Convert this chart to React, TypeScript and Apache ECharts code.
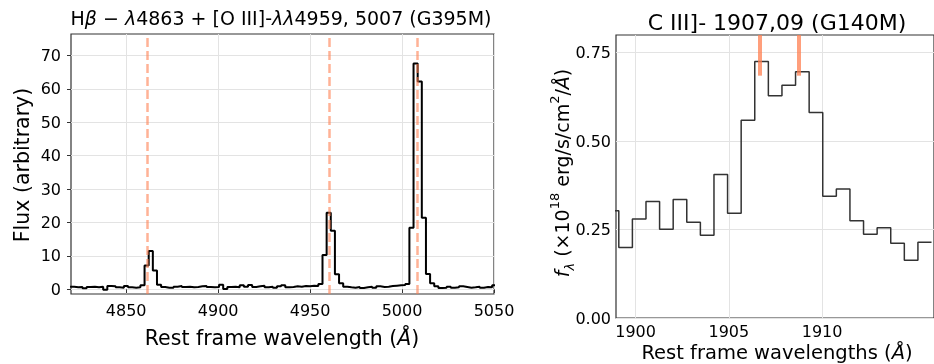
import React, { useEffect, useRef } from "react";
import * as echarts from "echarts";

// ---------- Left panel: Hβ + [O III] (G395M) ----------
const leftBinStart = 4819.5; // Å, first bin edge
const leftBinWidth = 2.25; // Å
const leftFlux = [
  0.8, 0.6, 0.7, 0.3, 0.7, 0.8, 0.6, 0.8, -0.1, 1.0, 0.9, 0.6, 0.5, 1.0, 0.6, 0.5, 0.6, 1.2,
  7.1, 11.5, 5.6, 1.4,
  0.7, 0.5, 0.5, 0.8, 1.0, 0.7, 0.8, 0.6, 0.7, 0.9, 1.0, 0.7, 0.6, 0.7, 1.4, 0.1, 0.7, 0.8,
  0.6, 1.2, 0.8, 1.3, 0.7, 0.9, 1.1, 0.6, 0.8, 0.5, 0.9, 1.2, 0.6, 0.7, 0.9, 0.8, 1.0, 0.9,
  1.1, 1.0, 1.6,
  10.3, 22.9, 17.5, 4.5, 1.8,
  0.8, 0.6, 0.5, 0.7, 0.4, 0.6, 0.8, 0.5, 0.9, 0.7, 0.8, 1.0, 1.1, 1.2, 1.3, 1.6,
  18.4, 67.6, 62.2, 21.4, 4.6, 1.8,
  0.9, 0.4, 0.5, 0.8, 0.5, 0.6, 0.9, 0.7, 0.5, 0.6, 0.8, 0.5, 0.7, 0.6, 1.2,
];
const leftLines = [4861.3, 4960.3, 5008.3];
const leftXTicks = [4850, 4900, 4950, 5000, 5050];
const leftYTicks = [0, 10, 20, 30, 40, 50, 60, 70];

// ---------- Right panel: C III] (G140M) ----------
const rightBinStart = 1898.371;
const rightBinWidth = 0.729;
const rightFlux = [
  0.303, 0.199, 0.28, 0.329, 0.251, 0.335, 0.271, 0.234, 0.406, 0.296, 0.559, 0.725,
  0.628, 0.658, 0.696, 0.581, 0.344, 0.365, 0.275, 0.237, 0.255, 0.211, 0.163, 0.214,
];
const rightLines = [1906.68, 1908.73];
const rightMarkFrom = 0.685;
const rightXTicks = [1900, 1905, 1910];
const rightYTicks = [0, 0.25, 0.5, 0.75];

const FONT = "DejaVu Sans";

function stepData(start: number, width: number, vals: number[]) {
  const d = vals.map((v, i) => [start + i * width, v]);
  d.push([start + vals.length * width, vals[vals.length - 1]]);
  return d;
}

function richLabel(size: number) {
  return {
    i: { fontSize: size, fontFamily: FONT, fontStyle: "italic", fill: "#000" },
    n: { fontSize: size, fontFamily: FONT, fill: "#000" },
  };
}

export default function App() {
  const ref = useRef<HTMLDivElement>(null);
  useEffect(() => {
    if (!ref.current) return;
    const chart = echarts.init(ref.current, undefined, { renderer: "svg" });
    const gridLine = { show: true, lineStyle: { color: "#e3e3e3", width: 1 } };
    const frame = "#333";
    const center = { align: "center", verticalAlign: "middle", textAlign: "center", textVerticalAlign: "middle" };
    const option: any = {
      animation: false,
      grid: [
        { left: 71, top: 34, width: 423, height: 260, show: true, borderColor: frame, borderWidth: 1.2, backgroundColor: "transparent" },
        { left: 616, top: 35, width: 323, height: 283, show: true, borderColor: frame, borderWidth: 1.2, backgroundColor: "transparent" },
      ],
      xAxis: [
        {
          type: "value", gridIndex: 0, min: 4820, max: 5050,
          axisLine: { show: false },
          axisTick: { show: true, length: 4, customValues: leftXTicks, lineStyle: { color: frame, width: 1 } },
          axisLabel: {
            customValues: leftXTicks, fontSize: 16, color: "#000", fontFamily: FONT, margin: 8,
            formatter: (v: number) => String(v),
          },
          splitLine: gridLine,
        },
        {
          type: "value", gridIndex: 1, min: 1898.95, max: 1916,
          axisLine: { show: false },
          axisTick: { show: false, customValues: rightXTicks },
          axisLabel: {
            customValues: rightXTicks, fontSize: 16, color: "#000", fontFamily: FONT, margin: 5,
            formatter: (v: number) => String(v),
          },
          splitLine: gridLine,
        },
      ],
      yAxis: [
        {
          type: "value", gridIndex: 0, min: -1.4, max: 76.4,
          axisLine: { show: false },
          axisTick: { show: true, length: 4, customValues: leftYTicks, lineStyle: { color: frame, width: 1 } },
          axisLabel: {
            customValues: leftYTicks, fontSize: 16, color: "#000", fontFamily: FONT, margin: 10,
            formatter: (v: number) => String(v),
          },
          splitLine: gridLine,
        },
        {
          type: "value", gridIndex: 1, min: 0, max: 0.8,
          axisLine: { show: false },
          axisTick: { show: false, customValues: rightYTicks },
          axisLabel: {
            customValues: rightYTicks, fontSize: 16, color: "#000", fontFamily: FONT, margin: 5,
            formatter: (v: number) => v.toFixed(2),
          },
          splitLine: gridLine,
        },
      ],
      series: [
        {
          type: "line", xAxisIndex: 0, yAxisIndex: 0, step: "end", showSymbol: false, z: 2,
          lineStyle: { color: "#000", width: 2 },
          data: stepData(leftBinStart, leftBinWidth, leftFlux),
        },
        {
          type: "line", xAxisIndex: 0, yAxisIndex: 0, data: [], z: 5,
          markLine: {
            silent: true, symbol: ["none", "none"], label: { show: false },
            lineStyle: { type: [9, 4], width: 2.5, color: "rgba(255,127,80,0.6)" },
            data: leftLines.map((v) => ({ xAxis: v })),
          },
        },
        {
          type: "line", xAxisIndex: 1, yAxisIndex: 1, step: "end", showSymbol: false, z: 2,
          lineStyle: { color: "#333", width: 1.5 },
          data: stepData(rightBinStart, rightBinWidth, rightFlux),
        },
        {
          type: "line", xAxisIndex: 1, yAxisIndex: 1, data: [], z: 5,
          markLine: {
            silent: true, symbol: ["none", "none"], label: { show: false },
            lineStyle: { type: "solid", width: 4, color: "rgba(255,127,80,0.75)" },
            data: rightLines.map((v) => [{ coord: [v, rightMarkFrom] }, { coord: [v, 0.8] }]),
          },
        },
      ],
      graphic: [
        {
          type: "text", x: 281, y: 18,
          style: {
            text: "{n|H}{i|β}{n| − }{i|λ}{n|4863 + [O III]-}{i|λλ}{n|4959, 5007 (G395M)}",
            fontSize: 19, fontFamily: FONT, fill: "#000", ...center,
            rich: richLabel(19),
          },
        },
        {
          type: "text", x: 777, y: 22,
          style: {
            text: "C III]- 1907,09 (G140M)", fontSize: 22, fontFamily: FONT, fill: "#000", ...center,
          },
        },
        {
          type: "text", x: 22, y: 165, rotation: Math.PI / 2,
          style: {
            text: "Flux (arbitrary)", fontSize: 20.5, fontFamily: FONT, fill: "#000", ...center,
          },
        },
        {
          type: "text", x: 282, y: 338,
          style: {
            text: "{n|Rest frame wavelength (}{i|Å}{n|)}", fontSize: 20.5, fontFamily: FONT, fill: "#000", ...center,
            rich: richLabel(20.5),
          },
        },
        {
          type: "text", x: 777, y: 352,
          style: {
            text: "{n|Rest frame wavelengths (}{i|Å}{n|)}", fontSize: 19.5, fontFamily: FONT, fill: "#000", ...center,
            rich: richLabel(19.5),
          },
        },
        {
          type: "text", x: 562, y: 173, rotation: Math.PI / 2,
          style: {
            text: "{fi|f}{sub|λ}{n| (×10}{sup|18}{n| erg/s/cm}{sup|2}{n|/}{ni|Å}{n|)}",
            fontSize: 19, fontFamily: FONT, fill: "#000", ...center,
            rich: {
              fi: { fontSize: 19, fontFamily: FONT, fontStyle: "italic", fill: "#000", lineHeight: 28, verticalAlign: "middle" },
              n: { fontSize: 19, fontFamily: FONT, fill: "#000", lineHeight: 28, verticalAlign: "middle" },
              ni: { fontSize: 19, fontFamily: FONT, fontStyle: "italic", fill: "#000", lineHeight: 28, verticalAlign: "middle" },
              sup: { fontSize: 13, fontFamily: FONT, fill: "#000", lineHeight: 14, verticalAlign: "top" },
              sub: { fontSize: 13, fontFamily: FONT, fontStyle: "italic", fill: "#000", lineHeight: 18, verticalAlign: "bottom" },
            },
          },
        },
      ],
    };
    chart.setOption(option);
    return () => chart.dispose();
  }, []);
  return (
    <div
      ref={ref}
      style={{ position: "fixed", left: 0, top: 0, width: 934, height: 364 }}
    />
  );
}
